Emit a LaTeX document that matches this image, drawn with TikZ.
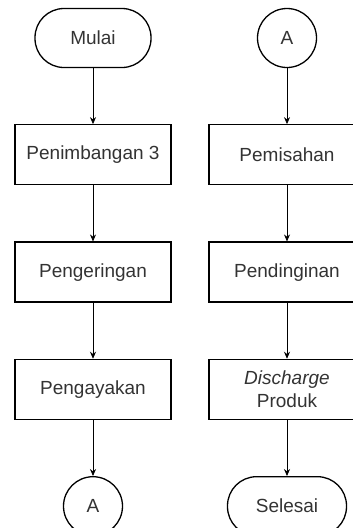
\documentclass[tikz,border=0pt]{standalone}
\usepackage{fontspec}
\setmainfont{Liberation Sans}
\usetikzlibrary{positioning,arrows.meta}
\begin{document}
\begin{tikzpicture}[x=1pt, y=1pt, node distance=56pt, auto,
  every node/.style={font=\fontsize{19pt}{23pt}\selectfont, text=black!80},
  terminal/.style={draw, line width=1.3pt, rounded corners=29pt, minimum width=116pt, minimum height=59pt},
  process/.style={draw, line width=1.3pt, minimum width=156pt, minimum height=60pt, align=center},
  connector/.style={draw, circle, line width=1.3pt, minimum size=59pt, inner sep=0pt},
  flow/.style={-{Stealth[length=7pt, width=6pt]}, line width=0.8pt}]
  \useasboundingbox (0,0) rectangle (353,-528);

  \node[terminal](mulai) at (93,-38){Mulai};
  \node[process, below=of mulai](penimbangan){Penimbangan 3};
  \node[process, below=of penimbangan](pengeringan){Pengeringan};
  \node[process, below=of pengeringan](pengayakan){Pengayakan};
  \node[connector, below=of pengayakan](akhirA){A};

  \node[connector](awalA) at (287,-38){A};
  \node[process, below=of awalA](pemisahan){Pemisahan};
  \node[process, below=of pemisahan](pendinginan){Pendinginan};
  \node[process, below=of pendinginan](discharge){\textit{Discharge}\\Produk};
  \node[terminal, minimum width=119pt, below=of discharge](selesai){Selesai};

  \draw[flow] (mulai) -- (penimbangan);
  \draw[flow] (penimbangan) -- (pengeringan);
  \draw[flow] (pengeringan) -- (pengayakan);
  \draw[flow] (pengayakan) -- (akhirA);

  \draw[flow] (awalA) -- (pemisahan);
  \draw[flow] (pemisahan) -- (pendinginan);
  \draw[flow] (pendinginan) -- (discharge);
  \draw[flow] (discharge) -- (selesai);
\end{tikzpicture}
\end{document}
